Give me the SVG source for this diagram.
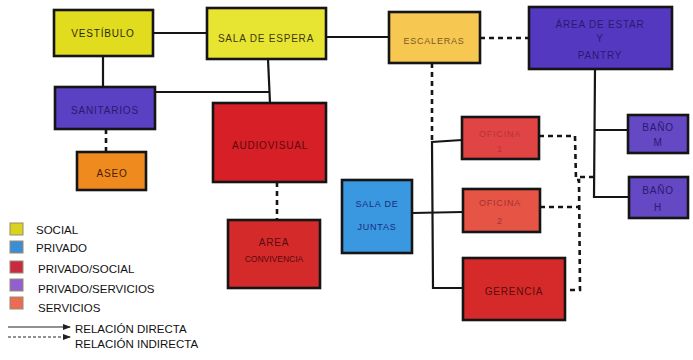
<svg xmlns="http://www.w3.org/2000/svg" width="693" height="360" viewBox="0 0 693 360">
<style>
.n{stroke:#151515;stroke-width:2.6}
.t{font-family:"Liberation Sans",Arial,sans-serif;font-size:10px;text-anchor:middle;letter-spacing:0.8px}
.c{fill:none;stroke:#151515;stroke-width:2.2}
.d{fill:none;stroke:#151515;stroke-width:2.6;stroke-dasharray:5 4}
.lg{font-family:"Liberation Sans",Arial,sans-serif;font-size:11.5px;fill:#111}
.sw{stroke:#9a8a70;stroke-width:1}
</style>
<defs>
<marker id="ah" markerWidth="8" markerHeight="6" refX="7" refY="3" orient="auto" markerUnits="userSpaceOnUse">
<path d="M0,0 L8,3 L0,6 Z" fill="#222"/>
</marker>
</defs>
<rect width="693" height="360" fill="#ffffff"/>
<g id="connectors">
<line class="c" x1="153" y1="33" x2="207" y2="33"/>
<line class="c" x1="103" y1="56" x2="103" y2="87"/>
<line class="c" x1="155" y1="92" x2="270" y2="92"/>
<line class="c" x1="268" y1="59" x2="270" y2="103"/>
<line class="c" x1="326" y1="37" x2="389" y2="37"/>
<line class="d" x1="480" y1="38" x2="529" y2="38"/>
<line class="d" x1="106" y1="129" x2="106" y2="152"/>
<line class="d" x1="277" y1="182" x2="277" y2="220"/>
<line class="d" x1="432" y1="63" x2="432" y2="140"/>
<polyline class="c" points="462,140 432,142 433,288 463,288"/>
<line class="c" x1="412" y1="213" x2="463" y2="212"/>
<polyline class="c" points="595,69 594,197 629,197"/>
<line class="c" x1="594" y1="130" x2="628" y2="130"/>
<polyline class="d" points="539,136 575,136 576,180 579,180 580,290 565,290"/>
<line class="d" x1="580" y1="177" x2="594" y2="177"/>
<line class="d" x1="540" y1="207" x2="578" y2="207"/>
</g>
<g id="vestibulo"><rect class="n" x="54" y="10" width="99" height="46" fill="#e2dc1e"/><text class="t" x="103" y="37" fill="#2a2a10">VESTÍBULO</text></g>
<g id="sala-espera"><rect class="n" x="207" y="8" width="119" height="51" fill="#e8e432"/><text class="t" x="266" y="42" fill="#3a3a10">SALA DE ESPERA</text></g>
<g id="escaleras"><rect class="n" x="389" y="12" width="91" height="51" fill="#f6c852"/><text class="t" x="434" y="44" fill="#7a5a20" style="font-size:9px">ESCALERAS</text></g>
<g id="area-estar"><rect class="n" x="529" y="7" width="143" height="62" fill="#5438c0"/>
<text class="t" x="600" y="28" fill="#2a1a70">ÁREA DE ESTAR</text><text class="t" x="600" y="42" fill="#2a1a70">Y</text><text class="t" x="600" y="59" fill="#2a1a70">PANTRY</text></g>
<g id="sanitarios"><rect class="n" x="55" y="87" width="100" height="42" fill="#5a40c2"/><text class="t" x="105" y="114" fill="#2a1a70">SANITARIOS</text></g>
<g id="aseo"><rect class="n" x="77" y="152" width="69" height="38" fill="#ef8a1e"/><text class="t" x="112" y="177" fill="#4a2008">ASEO</text></g>
<g id="audiovisual"><rect class="n" x="213" y="103" width="113" height="79" fill="#d61f26"/><text class="t" x="270" y="149" fill="#5a0a0a">AUDIOVISUAL</text></g>
<g id="area-convivencia"><rect class="n" x="228" y="220" width="92" height="68" fill="#d42a2a"/>
<text class="t" x="274" y="246" fill="#5a0a0a">AREA</text><text class="t" x="274" y="262" fill="#5a0a0a" style="font-size:8.5px;letter-spacing:0">CONVIVENCIA</text></g>
<g id="sala-juntas"><rect class="n" x="342" y="180" width="70" height="73" fill="#3a98e0"/>
<text class="t" x="377" y="207" fill="#1a2a80" style="font-size:9px">SALA DE</text><text class="t" x="377" y="230" fill="#1a2a80" style="font-size:9px">JUNTAS</text></g>
<g id="oficina1"><rect class="n" x="462" y="117" width="77" height="42" fill="#e04444"/>
<text class="t" x="500" y="137" fill="#b83434" style="font-size:9px">OFICINA</text><text class="t" x="500" y="152" fill="#b83434" style="font-size:9px">1</text></g>
<g id="oficina2"><rect class="n" x="463" y="189" width="77" height="43" fill="#e65446"/>
<text class="t" x="500" y="206" fill="#a83030" style="font-size:9px">OFICINA</text><text class="t" x="500" y="224" fill="#a83030" style="font-size:9px">2</text></g>
<g id="gerencia"><rect class="n" x="463" y="258" width="102" height="62" fill="#d62a2a"/><text class="t" x="514" y="295" fill="#5a0a0a">GERENCIA</text></g>
<g id="bano-m"><rect class="n" x="628" y="115" width="60" height="38" fill="#6448c4"/>
<text class="t" x="658" y="131" fill="#2a1a70">BAÑO</text><text class="t" x="658" y="146" fill="#2a1a70">M</text></g>
<g id="bano-h"><rect class="n" x="629" y="177" width="59" height="41" fill="#6448c4"/>
<text class="t" x="658" y="194" fill="#2a1a70">BAÑO</text><text class="t" x="658" y="211" fill="#2a1a70">H</text></g>
<g id="legend">
<rect class="sw" x="10" y="223" width="13" height="12" fill="#d8d41e"/>
<rect class="sw" x="10" y="241" width="13" height="12" fill="#3a8ed8"/>
<rect class="sw" x="10" y="261" width="13" height="12" fill="#c82a40"/>
<rect class="sw" x="10" y="279" width="13" height="12" fill="#9060d0"/>
<rect class="sw" x="10" y="297" width="13" height="12" fill="#ea6c52"/>
<text class="lg" x="36" y="234">SOCIAL</text>
<text class="lg" x="36" y="252">PRIVADO</text>
<text class="lg" x="38" y="273">PRIVADO/SOCIAL</text>
<text class="lg" x="38" y="293">PRIVADO/SERVICIOS</text>
<text class="lg" x="38" y="312">SERVICIOS</text>
<line x1="8" y1="327" x2="70" y2="327" stroke="#222" stroke-width="1" marker-end="url(#ah)"/>
<line x1="8" y1="337" x2="70" y2="337" stroke="#222" stroke-width="1" stroke-dasharray="3 2" marker-end="url(#ah)"/>
<text class="lg" x="75" y="333">RELACIÓN DIRECTA</text>
<text class="lg" x="75" y="348">RELACIÓN INDIRECTA</text>
</g>
</svg>
